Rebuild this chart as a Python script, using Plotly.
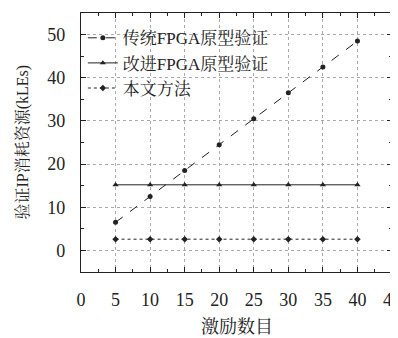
import plotly.graph_objects as go

x_vals = [5, 10, 15, 20, 25, 30, 35, 40]
traditional = [6.5, 12.5, 18.5, 24.5, 30.5, 36.5, 42.5, 48.5]
improved = [15.2, 15.2, 15.2, 15.2, 15.2, 15.2, 15.2, 15.2]
proposed = [2.6, 2.6, 2.6, 2.6, 2.6, 2.6, 2.6, 2.6]
names = ["传统FPGA原型验证", "改进FPGA原型验证", "本文方法"]
x_title = "激励数目"
y_title = "验证IP消耗资源(kLEs)"

serif = "Liberation Serif, Noto Serif CJK SC, Noto Sans CJK SC, serif"
c = "#222222"

fig = go.Figure()
fig.add_trace(go.Scatter(x=x_vals, y=traditional, name=names[0], mode="lines+markers",
                         line=dict(color=c, width=1, dash="dash"),
                         marker=dict(symbol="circle", size=5, color=c)))
fig.add_trace(go.Scatter(x=x_vals, y=improved, name=names[1], mode="lines+markers",
                         line=dict(color=c, width=1),
                         marker=dict(symbol="triangle-up", size=5.5, color=c)))
fig.add_trace(go.Scatter(x=x_vals, y=proposed, name=names[2], mode="lines+markers",
                         line=dict(color=c, width=1, dash="dot"),
                         marker=dict(symbol="diamond", size=5, color=c)))

axis_common = dict(showline=True, linecolor="#222", linewidth=1.2, mirror="allticks",
                   ticks="inside", ticklen=5, tickcolor="#222", automargin=False,
                   ticklabeloverflow="allow",
                   showgrid=True, gridcolor="#aaa", griddash="dot", gridwidth=1,
                   zeroline=False, tickfont=dict(family=serif, size=18, color="#222"))

fig.update_xaxes(range=[0, 45], dtick=5, tick0=0, ticklabelstandoff=11,
                 minor=dict(ticks="inside", dtick=2.5, ticklen=3, tickcolor="#222", showgrid=False),
                 **axis_common)
fig.update_yaxes(range=[-5, 55], dtick=10, tick0=0, ticklabelstandoff=11,
                 minor=dict(ticks="inside", dtick=5, ticklen=3, tickcolor="#222", showgrid=False),
                 **axis_common)

fig.add_annotation(text=x_title, xref="paper", yref="paper", x=0.5, y=-55/259,
                   xanchor="center", yanchor="middle", showarrow=False,
                   font=dict(family=serif, size=18, color="#222"))
fig.add_annotation(text=y_title, xref="paper", yref="paper", x=-59/311, y=0.5,
                   xanchor="center", yanchor="middle", showarrow=False, textangle=-90,
                   font=dict(family=serif, size=16, color="#222"))

# opaque key background (between grid and traces)
fig.add_shape(type="rect", xref="paper", yref="paper", x0=0.0225, x1=0.678, y0=0.676, y1=0.954,
              fillcolor="white", line=dict(width=0), layer="between")

# page has an 8px body margin: figure 390x330 placed at (8,8)
fig.update_layout(width=390, height=330, margin=dict(l=73, r=6, t=5, b=66),
                  plot_bgcolor="white", paper_bgcolor="white",
                  showlegend=True,
                  legend=dict(x=0.006, y=0.972, xanchor="left", yanchor="top",
                              bgcolor="rgba(0,0,0,0)", font=dict(family=serif, size=17, color="#222"),
                              tracegroupgap=0, itemwidth=30))

fig.write_html("out.html")
